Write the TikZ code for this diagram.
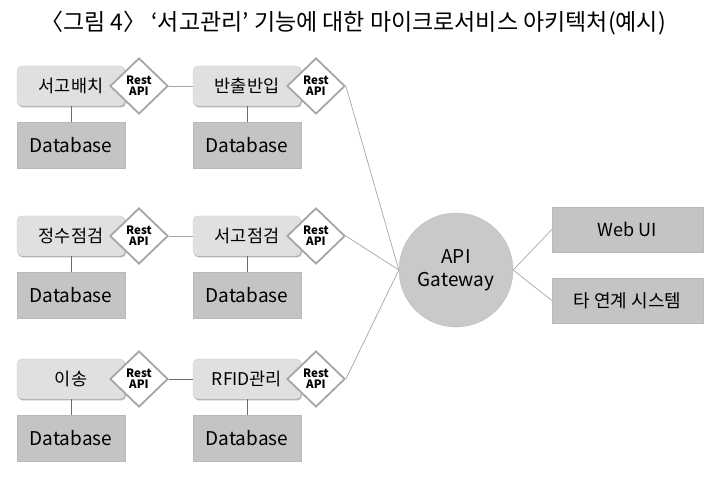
\documentclass[tikz,border=0pt]{standalone}
\usepackage{fontspec}
\setmainfont{Noto Sans CJK KR}
\usetikzlibrary{shapes.geometric,shadows}

\begin{document}
\begin{tikzpicture}[x=1pt,y=1pt,node distance=59pt,
        svc/.style={shape=rectangle,rounded corners=5pt,fill=gray!24,draw=gray!40,
          minimum width=108pt,minimum height=40pt,font=\fontsize{17.5}{19}\selectfont,
          drop shadow={shadow xshift=1pt,shadow yshift=-1.5pt,fill=gray!60,opacity=1}},
        db/.style={shape=rectangle,fill=gray!46,draw=gray!55,
          minimum width=108pt,minimum height=46pt,font=\fontsize{19}{21}\selectfont,
          drop shadow={shadow xshift=1pt,shadow yshift=-1.5pt,fill=gray!70,opacity=1}},
        rest/.style={shape=diamond,draw=gray!70,line width=1.8pt,fill=white,
          minimum width=58pt,minimum height=56pt,inner sep=0pt,align=center,
          font=\bfseries\fontsize{11.5}{11}\selectfont},
        gate/.style={shape=circle,fill=gray!42,draw=gray!55,minimum size=114pt,
          align=center,font=\fontsize{19}{23}\selectfont},
        ext/.style={shape=rectangle,fill=gray!46,draw=gray!55,
          minimum width=151pt,minimum height=45pt,font=\fontsize{18}{20}\selectfont},
        tie/.style={draw=gray!85!black,line width=0.9pt},
        wire/.style={draw=gray!70,line width=0.7pt}]
        \useasboundingbox (0,0) rectangle (721,-478);
        \node (title) at (353,-23) {\fontsize{23}{25}\selectfont 〈그림 4〉 ‘서고관리’ 기능에 대한 마이크로서비스 아키텍처(예시)};
        \node[svc] (s1) at (71,-86) {서고배치};
        \node[svc] (s2) at (247,-86) {반출반입};
        \node[svc] (s3) at (71,-236) {정수점검};
        \node[svc] (s4) at (247,-236) {서고점검};
        \node[svc] (s5) at (71,-379) {이송};
        \node[svc] (s6) at (247,-379) {RFID관리};
        \node[db,below of=s1] (d1) {Database};
        \node[db,below of=s2] (d2) {Database};
        \node[db,below of=s3] (d3) {Database};
        \node[db,below of=s4] (d4) {Database};
        \node[db,below of=s5] (d5) {Database};
        \node[db,below of=s6] (d6) {Database};
        \draw[tie] (s1) -- (d1);
        \draw[tie] (s2) -- (d2);
        \draw[tie] (s3) -- (d3);
        \draw[tie] (s4) -- (d4);
        \draw[tie] (s5) -- (d5);
        \draw[tie] (s6) -- (d6);
        \node[rest] (r1) at (139,-86) {Rest\\API};
        \node[rest] (r2) at (316,-86) {Rest\\API};
        \node[rest] (r3) at (139,-236) {Rest\\API};
        \node[rest] (r4) at (316,-236) {Rest\\API};
        \node[rest] (r5) at (139,-379) {Rest\\API};
        \node[rest] (r6) at (316,-379) {Rest\\API};
        \draw[wire] (r1) -- (s2);
        \draw[wire] (r3) -- (s4);
        \draw[tie] (r5) -- (s6);
        \node[gate] (gw) at (456,-270) {API\\Gateway};
        \node[ext] (web) at (627.5,-229.5) {Web UI};
        \node[ext] (etc) at (627.5,-300.5) {타 연계 시스템};
        \draw[wire] (r2.east) -- (gw.west);
        \draw[wire] (r4.east) -- (gw.west);
        \draw[wire] (r6.east) -- (gw.west);
        \draw[wire] (gw.east) -- (web.west);
        \draw[wire] (gw.east) -- (etc.west);
  \end{tikzpicture}
\end{document}
